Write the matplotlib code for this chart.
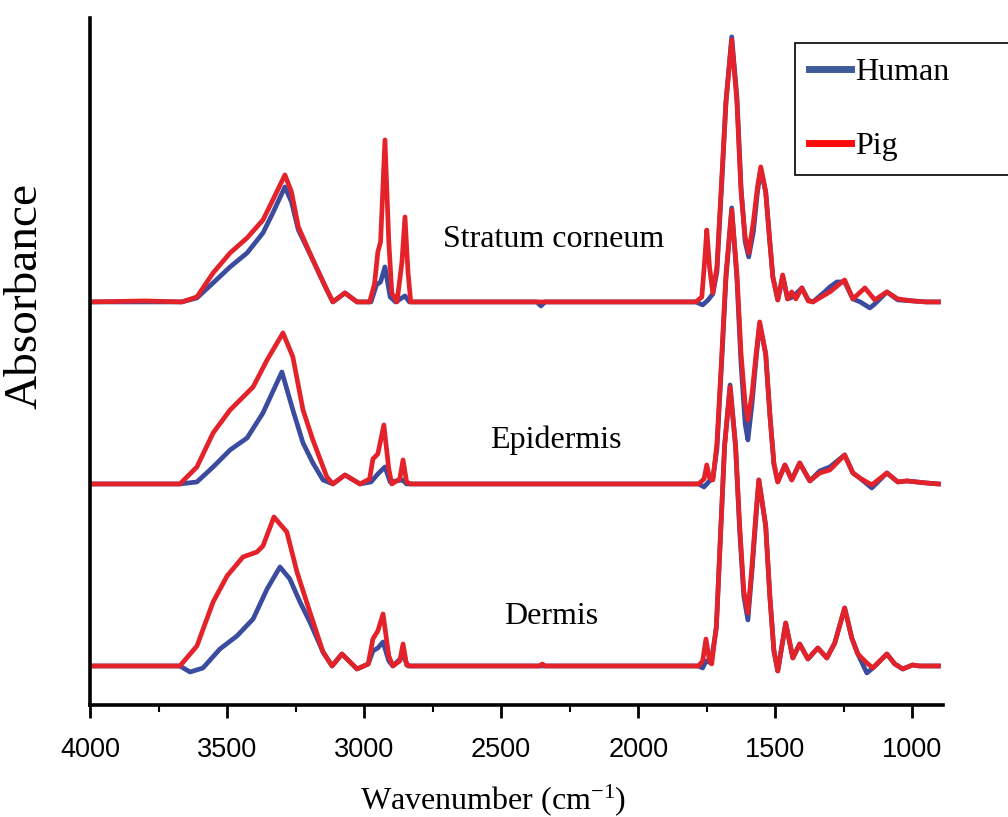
import matplotlib
matplotlib.use('Agg')
from matplotlib import pyplot as plt
from matplotlib.lines import Line2D
from matplotlib.ticker import MultipleLocator
import numpy as np

# FTIR spectra (wavenumber, absorbance above each trace's own baseline)
sc_human = [(4000, 0), (3800, 0), (3665, 0), (3610, 0.04), (3551, 0.19), (3489, 0.35),
            (3427, 0.49), (3369, 0.69), (3333, 0.89), (3289, 1.15), (3265, 1.0), (3240, 0.72),
            (3187, 0.42), (3136, 0.12), (3114, 0.0), (3070, 0.09), (3026, 0.0), (2975, 0.0),
            (2955, 0.17), (2940, 0.2), (2924, 0.35), (2905, 0.05), (2885, 0), (2851, 0.06),
            (2835, 0), (2370, 0), (2355, -0.04), (2340, 0), (1790, 0), (1765, -0.03),
            (1745, 0.02), (1728, 0.08), (1713, 0.3), (1695, 1.2), (1680, 2.0), (1659, 2.65),
            (1640, 2.05), (1625, 1.15), (1610, 0.6), (1597, 0.45), (1580, 0.7), (1565, 1.1),
            (1553, 1.33), (1535, 1.1), (1520, 0.6), (1509, 0.25), (1491, 0.02), (1473, 0.25),
            (1455, 0.03), (1436, 0.05), (1403, 0.14), (1380, 0.02), (1363, 0), (1320, 0.1),
            (1301, 0.15), (1275, 0.2), (1247, 0.2), (1217, 0.03), (1190, 0.0), (1155, -0.06),
            (1137, -0.02), (1093, 0.1), (1053, 0.02), (999, 0.01), (950, 0), (905, 0)]
sc_pig = [(4000, 0), (3800, 0.01), (3665, 0), (3610, 0.05), (3551, 0.29), (3489, 0.49),
          (3427, 0.64), (3369, 0.82), (3333, 1.02), (3289, 1.27), (3265, 1.1), (3240, 0.75),
          (3187, 0.42), (3136, 0.12), (3114, 0), (3070, 0.09), (3026, 0), (2980, 0.0),
          (2962, 0.18), (2950, 0.5), (2940, 0.6), (2924, 1.62), (2910, 0.6), (2899, 0.09),
          (2880, 0), (2862, 0.4), (2851, 0.85), (2840, 0.3), (2830, 0), (2370, 0), (1790, 0),
          (1768, 0.05), (1758, 0.4), (1750, 0.72), (1740, 0.35), (1728, 0.09), (1713, 0.35),
          (1695, 1.25), (1680, 2.0), (1659, 2.62), (1640, 2.0), (1625, 1.1), (1610, 0.65),
          (1597, 0.49), (1580, 0.8), (1565, 1.15), (1553, 1.35), (1535, 1.1), (1520, 0.6),
          (1509, 0.25), (1491, 0.02), (1473, 0.27), (1455, 0.03), (1440, 0.1), (1425, 0.03),
          (1403, 0.14), (1380, 0.01), (1363, 0), (1301, 0.1), (1247, 0.22), (1217, 0.03),
          (1173, 0.14), (1137, 0.02), (1093, 0.1), (1053, 0.03), (999, 0.01), (950, 0), (905, 0)]

epi_human = [(4000, 0), (3672, 0), (3610, 0.02), (3551, 0.17), (3489, 0.34), (3427, 0.46),
             (3369, 0.71), (3300, 1.12), (3260, 0.74), (3223, 0.41), (3187, 0.21), (3150, 0.04),
             (3114, 0), (3070, 0.09), (3015, 0), (2975, 0.02), (2950, 0.1), (2924, 0.17),
             (2905, 0.02), (2860, 0.04), (2845, 0), (1780, 0), (1760, -0.03), (1740, 0.03),
             (1728, 0.05), (1713, 0.35), (1695, 1.25), (1680, 2.05), (1659, 2.76), (1640, 2.05),
             (1625, 1.2), (1610, 0.6), (1600, 0.44), (1585, 0.8), (1570, 1.25), (1557, 1.6),
             (1535, 1.3), (1520, 0.7), (1505, 0.2), (1491, 0.02), (1465, 0.19), (1440, 0.04),
             (1411, 0.21), (1374, 0.03), (1338, 0.13), (1301, 0.17), (1247, 0.29), (1217, 0.11),
             (1192, 0.06), (1148, -0.04), (1093, 0.11), (1053, 0.02), (1020, 0.03), (950, 0.01),
             (905, 0)]
epi_pig = [(4000, 0), (3672, 0), (3610, 0.17), (3551, 0.51), (3489, 0.74), (3405, 0.97),
           (3354, 1.24), (3296, 1.51), (3260, 1.27), (3223, 0.74), (3187, 0.44), (3136, 0.07),
           (3114, 0), (3070, 0.09), (3015, 0), (2980, 0.05), (2968, 0.25), (2950, 0.3),
           (2928, 0.59), (2910, 0.15), (2899, 0), (2870, 0.05), (2858, 0.24), (2845, 0.02),
           (2830, 0), (1780, 0), (1760, 0.05), (1750, 0.19), (1740, 0.06), (1728, 0.04),
           (1713, 0.4), (1695, 1.3), (1680, 2.1), (1659, 2.74), (1640, 2.1), (1625, 1.3),
           (1610, 0.8), (1600, 0.64), (1585, 0.9), (1570, 1.3), (1557, 1.62), (1535, 1.3),
           (1520, 0.7), (1505, 0.2), (1491, 0.02), (1465, 0.19), (1440, 0.04), (1411, 0.21),
           (1374, 0.03), (1338, 0.11), (1301, 0.14), (1247, 0.29), (1217, 0.11), (1192, 0.06),
           (1148, -0.01), (1093, 0.11), (1053, 0.02), (1020, 0.03), (950, 0.01), (905, 0)]

dermis_human = [(4000, 0), (3672, 0), (3635, -0.06), (3588, -0.02), (3526, 0.17), (3464, 0.3),
                (3405, 0.47), (3354, 0.77), (3307, 0.99), (3271, 0.87), (3234, 0.64),
                (3198, 0.44), (3150, 0.14), (3117, 0), (3081, 0.12), (3026, -0.03), (2985, 0.02),
                (2968, 0.15), (2950, 0.18), (2931, 0.24), (2910, 0.05), (2895, 0), (2858, 0.1),
                (2840, 0), (1780, 0), (1765, -0.02), (1753, 0.05), (1735, 0.03), (1715, 0.38),
                (1700, 1.3), (1685, 2.2), (1665, 2.81), (1645, 2.2), (1630, 1.35), (1615, 0.7),
                (1600, 0.46), (1585, 0.95), (1570, 1.5), (1560, 1.86), (1535, 1.4), (1520, 0.7),
                (1505, 0.15), (1491, -0.05), (1462, 0.43), (1436, 0.08), (1411, 0.22),
                (1381, 0.07), (1345, 0.18), (1312, 0.08), (1283, 0.23), (1247, 0.58),
                (1221, 0.28), (1199, 0.12), (1166, -0.07), (1144, -0.02), (1093, 0.12),
                (1064, 0.02), (1035, -0.03), (999, 0.01), (974, 0), (905, 0)]
dermis_pig = [(4000, 0), (3672, 0), (3610, 0.2), (3551, 0.64), (3500, 0.9), (3442, 1.09),
              (3391, 1.14), (3369, 1.2), (3329, 1.49), (3282, 1.34), (3245, 0.94), (3198, 0.54),
              (3150, 0.14), (3117, 0), (3081, 0.12), (3026, -0.03), (2985, 0.02), (2968, 0.27),
              (2950, 0.35), (2931, 0.52), (2910, 0.1), (2895, 0), (2870, 0.05), (2858, 0.22),
              (2845, 0.01), (2830, 0), (2360, 0), (2350, 0.02), (2340, 0), (1780, 0),
              (1765, 0.05), (1753, 0.27), (1740, 0.05), (1732, 0.02), (1715, 0.4), (1700, 1.3),
              (1685, 2.2), (1665, 2.79), (1645, 2.2), (1630, 1.4), (1615, 0.75), (1600, 0.53),
              (1585, 1.0), (1570, 1.55), (1560, 1.86), (1535, 1.4), (1520, 0.7), (1505, 0.15),
              (1491, -0.05), (1462, 0.43), (1436, 0.08), (1411, 0.22), (1381, 0.07),
              (1345, 0.18), (1312, 0.08), (1283, 0.23), (1247, 0.58), (1221, 0.28),
              (1199, 0.12), (1166, 0.03), (1144, -0.02), (1093, 0.12), (1064, 0.02),
              (1035, -0.03), (999, 0.01), (974, 0), (905, 0)]

# vertical stacking of the three skin layers
sc_offset = 4.03
epi_offset = 2.21
dermis_offset = 0.39

layer_names = ['Stratum corneum', 'Epidermis', 'Dermis']
layer_label_pos = [(2308, 4.65), (2300, 2.65), (2319, 0.88)]

human_color = '#3b4c9e'
pig_color = '#e3222a'

plt.rcParams['mathtext.fontset'] = 'custom'
plt.rcParams['mathtext.rm'] = 'Liberation Serif'
plt.rcParams['mathtext.it'] = 'Liberation Serif:italic'

serif = ['Liberation Serif', 'DejaVu Serif']

fig = plt.figure(figsize=(10.08, 8.17), dpi=100)
ax = fig.add_axes([0.0893, 0.1371, 0.846, 0.841])

layers = [(sc_human, sc_pig, sc_offset),
          (epi_human, epi_pig, epi_offset),
          (dermis_human, dermis_pig, dermis_offset)]
for human, pig, offset in layers:
    x1, y1 = zip(*human)
    x2, y2 = zip(*pig)
    ax.plot(x1, np.array(y1) + offset, color=human_color, lw=3.4, solid_joinstyle='round')
    ax.plot(x2, np.array(y2) + offset, color=pig_color, lw=3.4, solid_joinstyle='round')

for name, (x, y) in zip(layer_names, layer_label_pos):
    ax.text(x, y, name, ha='center', va='center', fontsize=23, family=serif)

ax.set_xlim(4000, 889)
ax.set_ylim(0, 6.87)

ax.xaxis.set_major_locator(MultipleLocator(500))
ax.xaxis.set_minor_locator(MultipleLocator(250))
ax.tick_params(axis='x', which='major', length=9, width=2, direction='out', pad=14)
ax.tick_params(axis='x', which='minor', length=5, width=1.5, direction='out')
ax.set_yticks([])
for lbl in ax.get_xticklabels():
    lbl.set_family('Liberation Sans')
    lbl.set_fontsize(19.5)

for side in ['top', 'right']:
    ax.spines[side].set_visible(False)
for side in ['left', 'bottom']:
    ax.spines[side].set_linewidth(2.6)
    ax.spines[side].set_color('black')

fig.text(493 / 1008, 1 - 800 / 817, 'Wavenumber (cm$^{-1}$)', ha='center', va='center',
         fontsize=23, family=serif)
fig.text(25 / 1008, 1 - 296 / 817, 'Absorbance', rotation=90, ha='center', va='center',
         fontsize=34, family=serif)

# legend frame stretched past the right edge of the figure
handles = [Line2D([], [], color='#3d5a99', lw=5),
           Line2D([], [], color='#ff0a0a', lw=5)]
leg = ax.legend(handles, ['Human', 'Pig'], loc='upper left', mode='expand',
                bbox_to_anchor=(795 / 1008, 0, 0.3, 1 - 43 / 817),
                bbox_transform=fig.transFigure,
                prop={'family': serif, 'size': 23}, frameon=True, fancybox=False,
                framealpha=1, edgecolor='black', borderpad=0.45, borderaxespad=0,
                handlelength=1.3, handletextpad=0.12, labelspacing=1.4)
leg.get_frame().set_linewidth(1.2)

fig.savefig('out.png', dpi=100)
